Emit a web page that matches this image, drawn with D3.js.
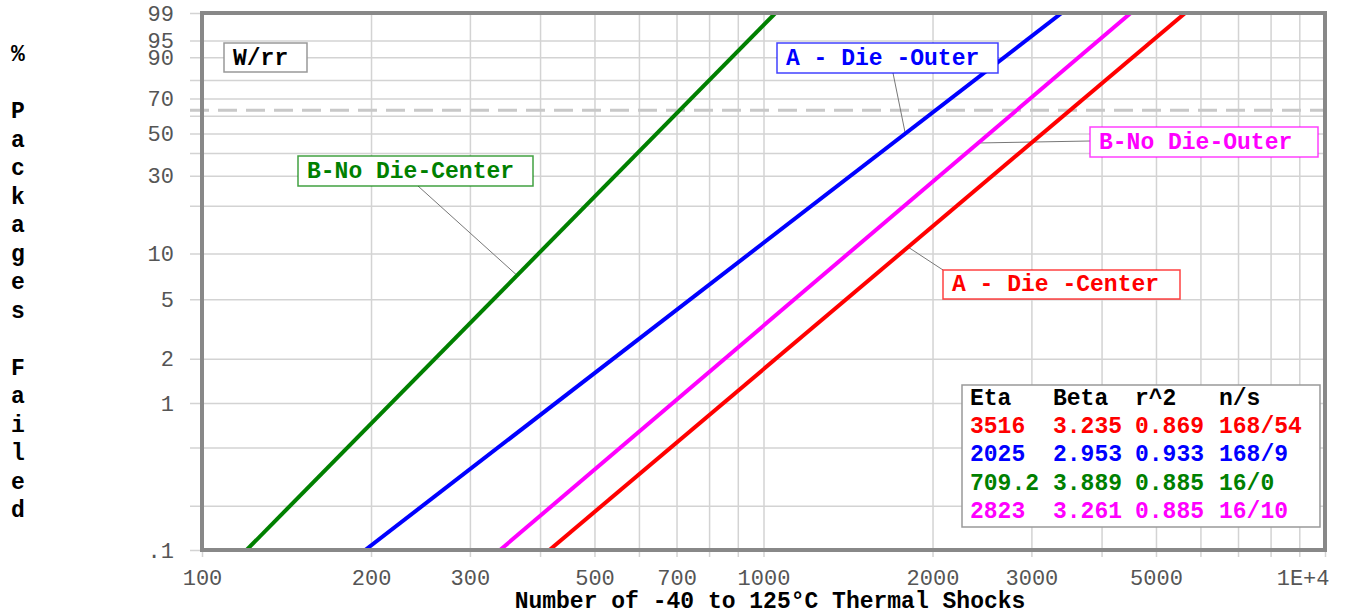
<!DOCTYPE html>
<html>
<head>
<meta charset="utf-8">
<script src="https://cdn.jsdelivr.net/npm/d3@7"></script>
<style>
  body { margin: 0; background: #fff; }
  svg text { font-family: "Courier New", "Liberation Mono", monospace; }
</style>
</head>
<body>
<div id="chart"></div>
<script>
// Weibull fit results (one entry per data set)
var seriesNames = ["A - Die -Center", "A - Die -Outer", "B-No Die-Center", "B-No Die-Outer"];
var etaValues = [3516, 2025, 709.2, 2823];
var betaValues = [3.235, 2.953, 3.889, 3.261];
var r2Values = [0.869, 0.933, 0.885, 0.885];
var nsValues = ["168/54", "168/9", "16/0", "16/10"];
var seriesColors = ["#ff0000", "#0000ff", "#008000", "#ff00ff"];
// legend row order as drawn in the table
var legendOrder = [0, 1, 2, 3];

// axis ticks
var xGridValues = [100, 200, 300, 400, 500, 600, 700, 800, 900, 1000,
  2000, 3000, 4000, 5000, 6000, 7000, 8000, 9000, 10000];
var xLabelValues = [100, 200, 300, 500, 700, 1000, 2000, 3000, 5000, 10000];
var xLabelText = ["100", "200", "300", "500", "700", "1000", "2000", "3000", "5000", "1E+4"];
var yGridValues = [0.1, 0.2, 0.5, 1, 2, 5, 10, 20, 30, 40, 50, 60, 70, 80, 90, 95, 99];
var yLabelValues = [0.1, 1, 2, 5, 10, 30, 50, 70, 90, 95, 99];
var yLabelText = [".1", "1", "2", "5", "10", "30", "50", "70", "90", "95", "99"];

// svg container
var svgWidth = 1345;
var svgHeight = 613;

// plot frame
var plot = { left: 202, right: 1325, top: 13, bottom: 550 };

var svg = d3.select("#chart")
  .append("svg")
  .attr("width", svgWidth)
  .attr("height", svgHeight);

// weibull probability transform
function wb(pct) {
  var F = pct / 100;
  return Math.log(-Math.log(1 - F));
}
// time at a given percent failed
function tAt(i, pct) {
  return etaValues[i] * Math.pow(-Math.log(1 - pct / 100), 1 / betaValues[i]);
}

var x = d3.scaleLog().domain([100, 10000]).range([plot.left, plot.right]);
var y = d3.scaleLinear().domain([wb(0.1), wb(99)]).range([plot.bottom, plot.top]);

var font = 23;
var tickFont = 22;

// x grid + ticks
var xAxis = svg.append("g")
  .attr("transform", `translate(0, ${plot.bottom + 7})`)
  .call(d3.axisBottom(x)
    .tickValues(xGridValues)
    .tickSizeInner(-(plot.bottom + 7 - plot.top))
    .tickSizeOuter(0)
    .tickPadding(12)
    .tickFormat(function(d) {
      var k = xLabelValues.indexOf(d);
      return k < 0 ? "" : xLabelText[k];
    }));
xAxis.select(".domain").remove();
xAxis.selectAll("line").attr("stroke", "#d3d3d3").attr("stroke-width", 1.5);
xAxis.selectAll("text")
  .attr("font-size", tickFont)
  .attr("font-family", '"Courier New", "Liberation Mono", monospace')
  .attr("fill", "#555");
// last label sits inside the right edge
xAxis.selectAll("text")
  .filter(d => d === 10000)
  .attr("text-anchor", "end")
  .attr("x", 4);

// y grid + ticks
var yAxis = svg.append("g")
  .attr("transform", `translate(190, 0)`)
  .call(d3.axisLeft(y)
    .tickValues(yGridValues.map(wb))
    .tickSizeInner(-(plot.right - 190))
    .tickSizeOuter(0)
    .tickPadding(16)
    .tickFormat(function(d, i) {
      var k = yLabelValues.indexOf(yGridValues[i]);
      return k < 0 ? "" : yLabelText[k];
    }));
yAxis.select(".domain").remove();
yAxis.selectAll("line").attr("stroke", "#d3d3d3").attr("stroke-width", 1.5);
yAxis.selectAll("text")
  .attr("font-size", tickFont)
  .attr("font-family", '"Courier New", "Liberation Mono", monospace')
  .attr("fill", "#555");

// 63.2% characteristic life line
svg.append("line")
  .attr("x1", 190).attr("x2", plot.right)
  .attr("y1", y(wb(63.2))).attr("y2", y(wb(63.2)))
  .attr("stroke", "#c8c8c8")
  .attr("stroke-width", 3)
  .attr("stroke-dasharray", "19,9");

// annotation boxes: series index, box position, leader start, percent on line
var notes = [
  { s: 1, x: 777, y: 43, w: 221, h: 30, lx: 893, ly: 73, pct: 50 },
  { s: 3, x: 1090, y: 127, w: 228, h: 30, lx: 1090, ly: 141, pct: 45 },
  { s: 0, x: 943, y: 270, w: 237, h: 29, lx: 943, ly: 270, pct: 11 },
  { s: 2, x: 298, y: 156, w: 235, h: 30, lx: 418, ly: 186, pct: 7.2 }
];

// leader lines
svg.append("g").selectAll("line")
  .data(notes)
  .enter().append("line")
  .attr("x1", d => d.lx).attr("y1", d => d.ly)
  .attr("x2", d => x(tAt(d.s, d.pct)))
  .attr("y2", d => y(wb(d.pct)))
  .attr("stroke", "#777")
  .attr("stroke-width", 1);

// clip for the fitted lines
svg.append("clipPath").attr("id", "plotClip")
  .append("rect")
  .attr("x", plot.left).attr("y", plot.top)
  .attr("width", plot.right - plot.left)
  .attr("height", plot.bottom - plot.top);

var line = d3.line()
  .x(d => x(d[0]))
  .y(d => y(wb(d[1])));

svg.append("g")
  .attr("clip-path", "url(#plotClip)")
  .selectAll("path")
  .data(seriesNames.map((n, i) => i))
  .enter().append("path")
  .attr("d", i => line([[tAt(i, 0.1), 0.1], [tAt(i, 99), 99]]))
  .attr("fill", "none")
  .attr("stroke", i => seriesColors[i])
  .attr("stroke-width", 4);

// W/rr box
svg.append("rect")
  .attr("x", 224).attr("y", 43).attr("width", 83).attr("height", 29)
  .attr("fill", "#fff").attr("stroke", "#999").attr("stroke-width", 1.5);
svg.append("text")
  .attr("x", 233).attr("y", 57)
  .attr("dy", "0.33em")
  .attr("font-size", font).attr("font-weight", "bold")
  .attr("fill", "#000")
  .text("W/rr");

// series label boxes
var noteG = svg.append("g").selectAll("g")
  .data(notes)
  .enter().append("g");
noteG.append("rect")
  .attr("x", d => d.x).attr("y", d => d.y)
  .attr("width", d => d.w).attr("height", d => d.h)
  .attr("fill", "#fff")
  .attr("stroke", d => seriesColors[d.s])
  .attr("stroke-opacity", 0.75)
  .attr("stroke-width", 1.5);
noteG.append("text")
  .attr("x", d => d.x + 9)
  .attr("y", d => d.y + d.h / 2 - 1)
  .attr("dy", "0.33em")
  .attr("font-size", font).attr("font-weight", "bold")
  .attr("fill", d => seriesColors[d.s])
  .text(d => seriesNames[d.s]);

// fit table
var table = svg.append("g");
table.append("rect")
  .attr("x", 962).attr("y", 385).attr("width", 358).attr("height", 142)
  .attr("fill", "#fff").attr("stroke", "#999").attr("stroke-width", 1.5);
var colX = [970, 1053, 1135, 1219];
var rowY = [397, 425, 453, 482, 510];
["Eta", "Beta", "r^2", "n/s"].forEach(function(h, c) {
  table.append("text")
    .attr("x", colX[c]).attr("y", rowY[0]).attr("dy", "0.35em")
    .attr("font-size", font).attr("font-weight", "bold")
    .attr("fill", "#000").text(h);
});
legendOrder.forEach(function(i, r) {
  var cells = [etaValues[i], betaValues[i].toFixed(3), r2Values[i].toFixed(3), nsValues[i]];
  cells.forEach(function(v, c) {
    table.append("text")
      .attr("x", colX[c]).attr("y", rowY[r + 1]).attr("dy", "0.35em")
      .attr("font-size", font).attr("font-weight", "bold")
      .attr("fill", seriesColors[i]).text(v);
  });
});

// plot frame
svg.append("rect")
  .attr("x", plot.left).attr("y", plot.top)
  .attr("width", plot.right - plot.left)
  .attr("height", plot.bottom - plot.top)
  .attr("fill", "none")
  .attr("stroke", "#888")
  .attr("stroke-width", 4);

// x title
svg.append("text")
  .attr("x", 770).attr("y", 600)
  .attr("dy", "0.35em")
  .attr("text-anchor", "middle")
  .attr("font-size", font).attr("font-weight", "bold")
  .attr("fill", "#000")
  .text("Number of -40 to 125°C Thermal Shocks");

// y title, one letter per row
var yTitle = "% Packages Failed";
svg.append("g").selectAll("text")
  .data(yTitle.split(""))
  .enter().append("text")
  .attr("x", 18)
  .attr("y", (d, i) => 53 + i * 28.5)
  .attr("dy", "0.35em")
  .attr("text-anchor", "middle")
  .attr("font-size", font).attr("font-weight", "bold")
  .attr("fill", "#000")
  .text(d => d);
</script>
</body>
</html>
